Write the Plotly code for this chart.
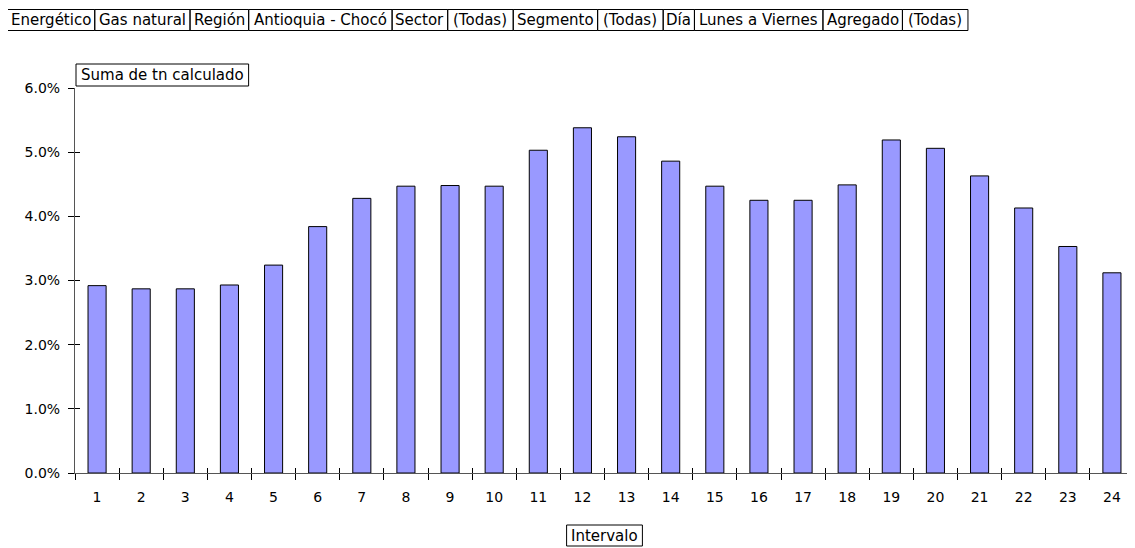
import plotly.graph_objects as go

# ---- data ----
intervals = [str(i) for i in range(1, 25)]
share_pct = [2.92, 2.87, 2.87, 2.93, 3.24, 3.84, 4.28, 4.47, 4.48, 4.47, 5.03, 5.38,
             5.24, 4.86, 4.47, 4.25, 4.25, 4.49, 5.19, 5.06, 4.63, 4.13, 3.53, 3.12]
values = [v / 100 for v in share_pct]
header_labels = ["Energético", "Gas natural", "Región", "Antioquia - Chocó", "Sector",
                 "(Todas)", "Segmento", "(Todas)", "Día", "Lunes a Viernes",
                 "Agregado", "(Todas)"]
y_title = "Suma de tn calculado"
x_title = "Intervalo"

# ---- layout geometry (pixels) ----
# the page body adds an 8px offset, so the figure is sized to fill the rest
OFF = 8
W, H = 1135 - OFF, 548 - OFF
PLOT_L, PLOT_R, PLOT_T, PLOT_B = 75, 1134, 88, 473   # in window pixels
L, T = PLOT_L - OFF, PLOT_T - OFF
R = W - (PLOT_R - OFF)
B = H - (PLOT_B - OFF)
PW, PH = PLOT_R - PLOT_L, PLOT_B - PLOT_T
FONT = "DejaVu Sans, Verdana, sans-serif"
FS = 15

def px(x):
    return (x - PLOT_L) / PW

def py(y):
    return (PLOT_B - y) / PH

# approximate Verdana-like advance widths (per 1000 em)
CW = {' ': 352, '(': 454, ')': 454, '-': 454, '.': 364, 'a': 601, 'c': 521, 'd': 623,
      'e': 596, 'g': 623, 'h': 633, 'i': 274, 'l': 274, 'm': 973, 'n': 633, 'o': 607,
      'q': 623, 'r': 427, 's': 521, 't': 394, 'u': 633, 'v': 592, 'A': 684, 'C': 698,
      'D': 770, 'E': 632, 'G': 775, 'I': 421, 'L': 557, 'R': 695, 'S': 683, 'T': 616,
      'V': 684, 'í': 274, 'é': 596, 'ó': 607}

def tw(s, f=15.36):
    return sum(CW.get(c, 600) for c in s) / 1000 * f

fig = go.Figure()
fig.add_trace(go.Bar(
    x=intervals, y=values,
    marker=dict(color="#9999FF", line=dict(color="#000000", width=1)),
    hoverinfo="x+y",
))
# invisible trace to carry the overlay axes (crossing tick marks)
fig.add_trace(go.Scatter(
    x=intervals, y=values, xaxis="x2", yaxis="y2", mode="markers",
    marker=dict(opacity=0), hoverinfo="skip", showlegend=False,
))

shapes = []
annotations = []

# header boxes
x0 = 7.3
y_top, y_bot = 9.5, 30.5
for lab in header_labels:
    w = tw(lab) + 6
    shapes.append(dict(type="rect", xref="paper", yref="paper",
                       x0=px(x0), x1=px(x0 + w), y0=py(y_bot), y1=py(y_top),
                       line=dict(color="#000000", width=1), fillcolor="rgba(0,0,0,0)"))
    annotations.append(dict(xref="paper", yref="paper", x=px(x0 + w / 2),
                            y=py((y_top + y_bot) / 2), text=lab, showarrow=False,
                            xanchor="center", yanchor="middle",
                            font=dict(family=FONT, size=FS, color="#000000")))
    x0 += w

# y title box
w = tw(y_title) + 6
shapes.append(dict(type="rect", xref="paper", yref="paper",
                   x0=px(76), x1=px(76 + w), y0=py(86), y1=py(64),
                   line=dict(color="#000000", width=1), fillcolor="white"))
annotations.append(dict(xref="paper", yref="paper", x=px(76 + w / 2), y=py(75),
                        text=y_title, showarrow=False, xanchor="center", yanchor="middle",
                        font=dict(family=FONT, size=FS, color="#000000")))

# x title box
w = tw(x_title) + 6
cx = (PLOT_L + PLOT_R) / 2
shapes.append(dict(type="rect", xref="paper", yref="paper",
                   x0=px(cx - w / 2), x1=px(cx + w / 2), y0=py(546), y1=py(525),
                   line=dict(color="#000000", width=1), fillcolor="white"))
annotations.append(dict(xref="paper", yref="paper", x=px(cx), y=py(535.5),
                        text=x_title, showarrow=False, xanchor="center", yanchor="middle",
                        font=dict(family=FONT, size=FS, color="#000000")))

fig.update_layout(
    width=W, height=H,
    margin=dict(l=L, r=R, t=T, b=B, pad=0),
    paper_bgcolor="white", plot_bgcolor="white",
    showlegend=False,
    bargap=0.59,
    font=dict(family=FONT, size=FS, color="#000000"),
    shapes=shapes, annotations=annotations,
    xaxis=dict(type="category", categoryorder="array", categoryarray=intervals,
               range=[-0.5, 23.5], tickson="boundaries", ticks="outside", ticklen=6,
               tickcolor="#000000", showline=True, linecolor="#555555", linewidth=1,
               showgrid=False, zeroline=False, ticklabelstandoff=11,
               tickfont=dict(family=FONT, size=14)),
    xaxis2=dict(type="category", categoryorder="array", categoryarray=intervals,
                overlaying="x", range=[-0.5, 23.5], tickson="boundaries", ticks="inside",
                ticklen=5, tickcolor="#000000", showticklabels=False, showline=False,
                showgrid=False, zeroline=False, side="bottom"),
    yaxis=dict(range=[0, 0.06], dtick=0.01, tickformat=".1%", ticks="outside",
               ticklen=6, tickcolor="#000000", showline=True, linecolor="#555555",
               linewidth=1, showgrid=False, zeroline=False, ticklabelstandoff=5,
               tickfont=dict(family=FONT, size=14)),
    yaxis2=dict(range=[0, 0.06], dtick=0.01, overlaying="y", ticks="inside", ticklen=5,
                tickcolor="#000000", showticklabels=False, showline=False,
                showgrid=False, zeroline=False, side="left"),
)

fig.write_html("out.html")
